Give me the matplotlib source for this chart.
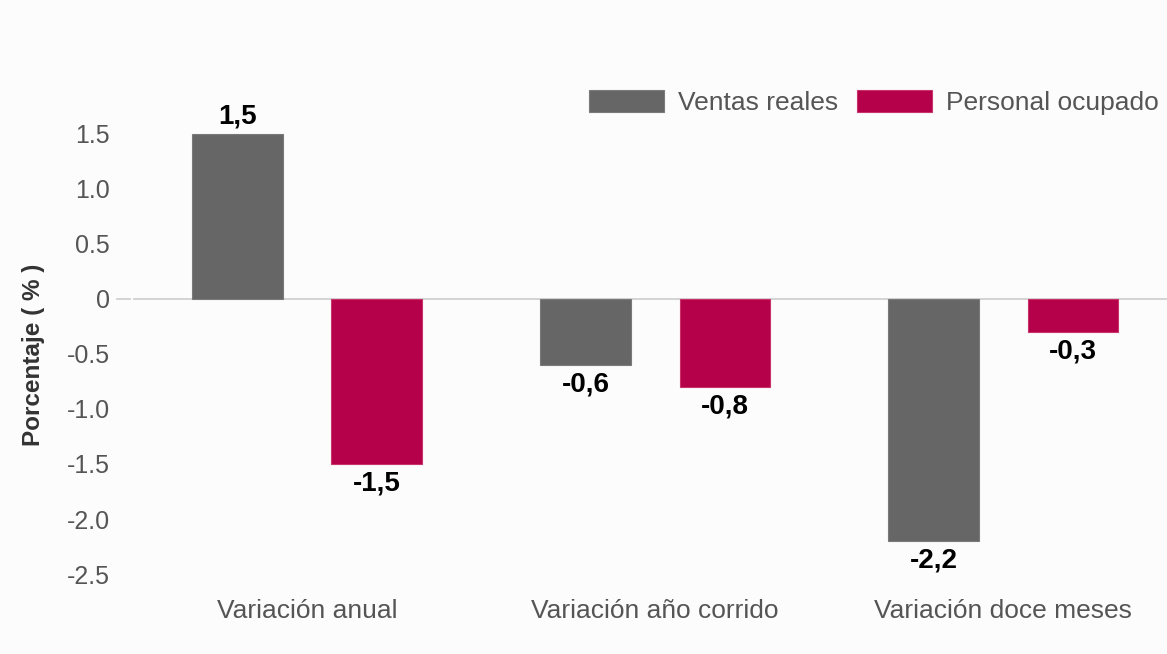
import numpy as np
import matplotlib.pyplot as plt

categorias = ["Variación anual", "Variación año corrido", "Variación doce meses"]
ventas_reales = [1.5, -0.6, -2.2]
personal_ocupado = [-1.5, -0.8, -0.3]
etiquetas_ventas = ["1,5", "-0,6", "-2,2"]
etiquetas_personal = ["-1,5", "-0,8", "-0,3"]
yticks = [1.5, 1.0, 0.5, 0, -0.5, -1.0, -1.5, -2.0, -2.5]
ytick_labels = ["1.5", "1.0", "0.5", "0", "-0.5", "-1.0", "-1.5", "-2.0", "-2.5"]

GRIS = "#666666"
ROJO = "#b5004a"
TEXTO = "#555555"

plt.rcParams['font.family'] = ['Liberation Sans', 'DejaVu Sans']

fig = plt.figure(figsize=(11.67, 6.54), dpi=100, facecolor="#fcfcfc")
ax = fig.add_axes([0.114, 0.1223, 0.886, 0.757])
ax.set_facecolor("#fcfcfc")

x = np.arange(len(categorias))
w = 0.26
off = 0.2
b1 = ax.bar(x - off, ventas_reales, w, color=GRIS, edgecolor="#7a7a7a", linewidth=0.8,
            label="Ventas reales", zorder=3)
b2 = ax.bar(x + off, personal_ocupado, w, color=ROJO, edgecolor="#c8336b", linewidth=0.8,
            label="Personal ocupado", zorder=3)

for bars, labs in ((b1, etiquetas_ventas), (b2, etiquetas_personal)):
    for rect, lab in zip(bars, labs):
        h = rect.get_height()
        cx = rect.get_x() + rect.get_width() / 2
        if h >= 0:
            ax.annotate(lab, (cx, h), xytext=(0, 3), textcoords="offset points",
                        ha="center", va="bottom", fontsize=20, fontweight="bold", color="black")
        else:
            ax.annotate(lab, (cx, h), xytext=(0, -5), textcoords="offset points",
                        ha="center", va="top", fontsize=20, fontweight="bold", color="black")

ax.axhline(0, color="#cccccc", linewidth=1.2, zorder=2)
ax.set_xlim(-0.5, 2.47)
ax.set_ylim(-2.5, 2.0)
ax.set_yticks(yticks)
ax.set_yticklabels(ytick_labels)
ax.set_xticks(x)
ax.set_xticklabels(categorias)
ax.tick_params(axis="y", length=0, labelsize=18, labelcolor=TEXTO, pad=16.5)
ax.tick_params(axis="x", length=0, labelsize=19, labelcolor=TEXTO, pad=18)
for s in ax.spines.values():
    s.set_visible(False)

# tick mark at zero only
ax.plot([-0.545, -0.51], [0, 0], color="#cccccc", linewidth=1.2, clip_on=False)

ax.set_ylabel("Porcentaje ( % )", fontsize=17.5, fontweight="bold", color="#333333")
ax.yaxis.set_label_coords(-0.085, 0.442)

fig.legend(loc="center right", bbox_to_anchor=(1.004, 0.843), ncol=2, frameon=False,
           fontsize=19, handlelength=2.84, handleheight=0.91, handletextpad=0.53,
           columnspacing=0.72, borderpad=0, labelcolor=TEXTO)

fig.savefig("out.png", dpi=100, facecolor=fig.get_facecolor())
